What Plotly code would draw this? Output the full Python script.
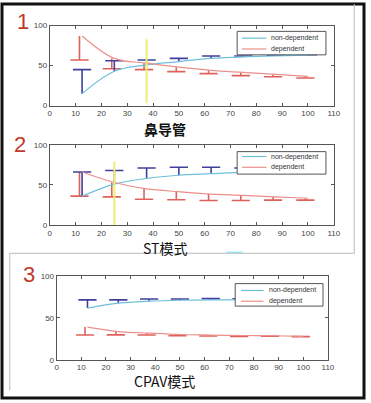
import plotly.graph_objects as go

W, H = 371, 403

# ---------------- data ----------------
x_time = [12.5, 25, 37.5, 50, 62.5, 75, 87.5, 100]
x_ticks = list(range(0, 111, 10))
y_ticks = [0, 50, 100]

# panel 1 (鼻导管)
nd1 = [15, 43, 51, 55, 59, 61, 62, 63]
nd1_up = [30, 13, 6, 4, 3, 1, 1, 0.5]
d1 = [87, 59, 53, 48, 44, 41.5, 39, 36.5]
d1_down = [30, 13, 8, 5.5, 4, 4, 3, 2]
mark1_x = [37.5, 37.5]
mark1_y = [3, 83]

# panel 2 (ST模式)
nd2 = [36, 51, 58, 62, 64, 66, 67, 68]
nd2_up = [30, 17, 13, 10, 8, 5, 4, 3]
d2 = [66, 53, 45, 41.5, 38.5, 37, 35, 33.3]
d2_down = [30, 18, 13, 10, 8, 6.5, 4, 2.3]
mark2_x = [25, 25]
mark2_y = [0, 79]

# panel 3 (CPAV模式)
nd3 = [61.6, 67.4, 69.8, 70.9, 71.3, 71.5, 71.6, 71.7]
nd3_up = [9.7, 4, 2.6, 1.5, 1.6, 1.2, 1, 1]
d3 = [39, 33.7, 31.8, 30.2, 29.5, 29, 28.7, 28]
d3_down = [9.5, 4, 2.3, 1.5, 1.2, 1, 0.6, 0.3]

panel_names = ["鼻导管", "ST模式", "CPAV模式"]
panel_nums = ["1", "2", "3"]
series_names = ["non-dependent", "dependent"]

# ---------------- styles ----------------
C_ND_LINE = "#6fbfdc"
C_ND_BAR = "#3f3f9c"
C_D_LINE = "#ec8f8a"
C_D_BAR = "#e0605a"
C_MARK = "#eeee70"
C_NUM = "#c0392b"


def px(x):
    return x / W


def py(y):
    return 1 - y / H


panels = [
    dict(nd=nd1, ndu=nd1_up, d=d1, dd=d1_down, mx=mark1_x, my=mark1_y,
         xd=(49, 340), yd=(22, 104), leg=(241, 28, 332, 52), ly=(35, 46), lx=(246, 271, 274),
         num=(22, 18), lab=(167, 128), bold=True),
    dict(nd=nd2, ndu=nd2_up, d=d2, dd=d2_down, mx=mark2_x, my=mark2_y,
         xd=(49, 340), yd=(144, 226), leg=(241, 151, 332, 174), ly=(156, 167), lx=(246, 271, 274),
         num=(18, 144), lab=(167, 250), bold=False),
    dict(nd=nd3, ndu=nd3_up, d=d3, dd=d3_down, mx=None, my=None,
         xd=(56, 334), yd=(278, 364), leg=(239, 286, 329, 309), ly=(293, 304), lx=(245, 268, 272),
         num=(28, 277), lab=(167, 386), bold=False),
]

fig = go.Figure()
layout = dict(
    width=W, height=H, margin=dict(l=0, r=0, t=0, b=0),
    paper_bgcolor="white", plot_bgcolor="white", showlegend=False,
    font=dict(family="Liberation Sans, Arial, sans-serif", color="#333"),
)
annotations = []
shapes = []

for i, p in enumerate(panels):
    k = "" if i == 0 else str(i + 1)
    xa, ya = "x" + k, "y" + k

    layout["xaxis" + k] = dict(
        domain=[px(p["xd"][0]), px(p["xd"][1])], anchor=ya, range=[0, 110],
        tickvals=x_ticks, ticks="inside", ticklen=3, tickcolor="#555",
        showline=True, linecolor="#555", linewidth=1, mirror="ticks",
        showgrid=False, zeroline=False, tickfont=dict(size=8, color="#444"),
    )
    layout["yaxis" + k] = dict(
        domain=[py(p["yd"][1]), py(p["yd"][0])], anchor=xa, range=[0, 100],
        tickvals=y_ticks, ticks="inside", ticklen=3, tickcolor="#555",
        showline=True, linecolor="#555", linewidth=1, mirror="ticks",
        showgrid=False, zeroline=False, tickfont=dict(size=8, color="#444"),
    )

    # error bar stems & caps
    def add_bars(xs, base, tips, color):
        sx, sy = [], []
        for xv, b, t in zip(xs, base, tips):
            sx += [xv, xv, None]
            sy += [b, t, None]
        fig.add_trace(go.Scatter(x=sx, y=sy, mode="lines", xaxis=xa, yaxis=ya,
                                 line=dict(color=color, width=1.6), hoverinfo="skip"))
        fig.add_trace(go.Scatter(x=xs, y=tips, mode="markers", xaxis=xa, yaxis=ya,
                                 marker=dict(symbol="line-ew", size=13,
                                             line=dict(color=color, width=1.6)),
                                 hoverinfo="skip"))

    nd_tips = [m + e for m, e in zip(p["nd"], p["ndu"])]
    d_tips = [m - e for m, e in zip(p["d"], p["dd"])]
    d_x = [v - 1 for v in x_time]
    add_bars(d_x, p["d"], d_tips, C_D_BAR)
    add_bars(x_time, p["nd"], nd_tips, C_ND_BAR)

    fig.add_trace(go.Scatter(x=x_time, y=p["nd"], mode="lines", name=series_names[0],
                             xaxis=xa, yaxis=ya,
                             line=dict(color=C_ND_LINE, width=1.2, shape="spline")))
    fig.add_trace(go.Scatter(x=x_time, y=p["d"], mode="lines", name=series_names[1],
                             xaxis=xa, yaxis=ya,
                             line=dict(color=C_D_LINE, width=1.2, shape="spline")))

    if p["mx"] is not None:
        fig.add_trace(go.Scatter(x=p["mx"], y=p["my"], mode="lines", xaxis=xa, yaxis=ya,
                                 line=dict(color=C_MARK, width=2), hoverinfo="skip"))

    # legend box (MATLAB style)
    lx0, ly0, lx1, ly1 = p["leg"]
    shapes.append(dict(type="rect", xref="paper", yref="paper", layer="above",
                       x0=px(lx0), x1=px(lx1), y0=py(ly1), y1=py(ly0),
                       fillcolor="white", line=dict(color="#555", width=1)))
    for j, (col, name) in enumerate([(C_ND_LINE, series_names[0]), (C_D_LINE, series_names[1])]):
        yy = p["ly"][j]
        shapes.append(dict(type="line", xref="paper", yref="paper", layer="above",
                           x0=px(p["lx"][0]), x1=px(p["lx"][1]), y0=py(yy), y1=py(yy),
                           line=dict(color=col, width=1.2)))
        annotations.append(dict(text=name, x=px(p["lx"][2]), y=py(yy), xref="paper", yref="paper",
                                xanchor="left", yanchor="middle", showarrow=False,
                                font=dict(size=7, color="#333")))

    annotations.append(dict(text=panel_nums[i], x=px(p["num"][0]), y=py(p["num"][1]),
                            xref="paper", yref="paper", showarrow=False,
                            xanchor="center", yanchor="middle",
                            font=dict(size=22, color=C_NUM, family="Liberation Sans, Arial")))
    lab = "<b>" + panel_names[i] + "</b>" if p["bold"] else panel_names[i]
    annotations.append(dict(text=lab, x=px(p["lab"][0]), y=py(p["lab"][1]),
                            xref="paper", yref="paper", showarrow=False,
                            xanchor="center", yanchor="middle",
                            font=dict(size=14, color="#111",
                                      family="Noto Sans CJK SC, Liberation Sans")))

# frame lines of the screenshot
shapes.append(dict(type="rect", xref="paper", yref="paper", x0=0, x1=1, y0=0, y1=1,
                   line=dict(color="#111", width=3)))
shapes.append(dict(type="line", xref="paper", yref="paper", x0=px(361), x1=px(361),
                   y0=py(0), y1=py(255), line=dict(color="#bbb", width=1)))
shapes.append(dict(type="line", xref="paper", yref="paper", x0=px(8), x1=px(361),
                   y0=py(255), y1=py(255), line=dict(color="#bbb", width=1)))
shapes.append(dict(type="line", xref="paper", yref="paper", x0=px(8), x1=px(8),
                   y0=py(255), y1=py(395), line=dict(color="#bbb", width=1)))
shapes.append(dict(type="line", xref="paper", yref="paper", x0=px(230), x1=px(247),
                   y0=py(254), y1=py(254), line=dict(color="#9fe0ee", width=1.5)))

layout["annotations"] = annotations
layout["shapes"] = shapes
fig.update_layout(**layout)

fig.write_html("out.html", config={"displayModeBar": False},
               post_script="document.body.style.margin='0';")
